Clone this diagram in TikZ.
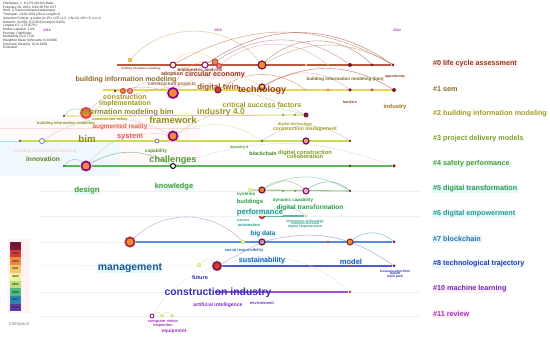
\documentclass[tikz,border=0pt]{standalone}
\usepackage{fontspec}
\setmainfont{Liberation Sans}
\usepackage{xcolor}
\usetikzlibrary{positioning,backgrounds}

\definecolor{y16}{HTML}{5B3C9E}
\definecolor{y17}{HTML}{2C84B4}
\definecolor{y18}{HTML}{4DBB7A}
\definecolor{y19}{HTML}{BDE07A}
\definecolor{y20}{HTML}{F3F0A0}
\definecolor{y21}{HTML}{F5C766}
\definecolor{y22}{HTML}{EE8A3C}
\definecolor{y23}{HTML}{D63A3A}
\definecolor{y24}{HTML}{7A1638}
\definecolor{c0}{HTML}{8B3A1E}
\definecolor{c1}{HTML}{8A6A24}
\definecolor{c2}{HTML}{A09A22}
\definecolor{c3}{HTML}{7A9C22}
\definecolor{c4}{HTML}{4A9C2A}
\definecolor{c5}{HTML}{2A9A48}
\definecolor{c6}{HTML}{2A9A88}
\definecolor{c7}{HTML}{2A6EB0}
\definecolor{c8}{HTML}{2A36B0}
\definecolor{c10}{HTML}{6A2EC0}
\definecolor{c11}{HTML}{A030C0}
\definecolor{salmon}{HTML}{E0604A}
\definecolor{l0}{HTML}{B85A40}
\definecolor{l1}{HTML}{E6D84A}
\definecolor{l2}{HTML}{DCDC6A}
\definecolor{l3}{HTML}{C8DC58}
\definecolor{l4}{HTML}{5AB85A}
\definecolor{l5}{HTML}{9CC890}
\definecolor{l6}{HTML}{5AB8A8}
\definecolor{l7}{HTML}{5A8CD8}
\definecolor{l8}{HTML}{4A5AD8}
\definecolor{l10}{HTML}{A050D8}

\begin{document}
\begin{tikzpicture}[
    x=1pt, y=-1pt,
    kwdot/.style={circle, inner sep=0pt, minimum size=#1},
    halo/.style={preaction={draw=magenta!22, line width=3pt}},
    kw/.style 2 args={text=#1, font=\bfseries\fontsize{#2pt}{#2pt}\selectfont, inner sep=0.4pt, align=center},
    clabel/.style={anchor=west, font=\bfseries\fontsize{7.2pt}{7.2pt}\selectfont, inner sep=1pt},
    cyanbg/.style={fill=cyan!10},
    pinkbg/.style={fill=pink!25},
    tline/.style={line width=1.1pt},
    faint/.style={line width=0.5pt, draw=gray!12},
    link/.style={line width=0.6pt, opacity=0.5},
    legbox/.style={draw=none, minimum width=11pt, minimum height=7.7pt, inner sep=0pt,
        font=\bfseries\fontsize{2.8pt}{2.8pt}\selectfont, text=black!85}
]
\useasboundingbox (0,0) rectangle (550,339);

% Header and years
\node[anchor=north west, align=left, inner sep=0pt, text=black!80,
      font=\fontsize{3.3pt}{3.7pt}\selectfont] (info) at (3,2) {CiteSpace, v. 6.1.R1 (64-bit) Basic\\
February 29, 2024, 9:49:38 PM CST\\
WoS: C:\textbackslash Users\textbackslash citespace\textbackslash data\textbackslash input\\
Timespan: 2016-2024 (Slice Length=1)\\
Selection Criteria: g-index (k=25), LRF=2.5, L/N=10, LBY=5, e=1.0\\
Network: N=258, E=539 (Density=0.0163)\\
Largest CC: 173 (67\%)\\
Nodes Labeled: 1.0\%\\
Pruning: Pathfinder\\
Modularity Q=0.7718\\
Weighted Mean Silhouette S=0.9306\\
Harmonic Mean(Q, S)=0.8439\\
Excluded:};
\node[kw={violet!70}{3.5}] (yr16) at (47,30) {2016};
\node[kw={violet!70}{3.5}] (yr20) at (218,30) {2020};
\node[kw={violet!70}{3.5}] (yr24) at (397,30) {2024};

% Row 0
\node[kwdot=4pt, fill=y21, draw=y22] (r0a) at (130,60) {};
\node[kwdot=6pt, fill=y20, draw=violet, line width=0.9pt] (r0b) at (173,65) {};
\node[kwdot=6pt, fill=white, draw=violet, line width=0.9pt] (r0c) at (205,65) {};
\node[kwdot=6pt, fill=y22, draw=y24!80, line width=0.8pt] (r0d) at (215,62) {};
\node[kwdot=5pt, fill=y23!60, draw=y23, line width=0.9pt] (r0e) at (219,66) {};
\node[kwdot=8pt, fill=y22, draw=y24, line width=1.2pt] (r0f) at (262,65) {};
\node[kwdot=2.5pt, fill=y21] (r0g) at (306,65) {};
\node[kwdot=2.5pt, fill=y22] (r0h) at (328,65) {};
\node[kwdot=4pt, fill=y24] (r0i) at (350,65) {};
\node[kwdot=3pt, fill=y24] (r0j) at (372,65) {};
\node[kwdot=3pt, fill=y24] (r0k) at (393,65) {};
\coordinate (s0) at (117,65);

% Row 1
\node[kwdot=2.5pt, fill=y24] (r1a) at (115,91) {};
\node[kwdot=5pt, fill=y22, draw=y23, line width=0.9pt] (r1b) at (123,91) {};
\node[kwdot=5pt, fill=y23!50, draw=y23, line width=0.9pt] (r1c) at (130,91) {};
\node[kwdot=10pt, fill=y22, draw=violet, line width=1.5pt, halo] (r1d) at (173,93) {};
\node[kwdot=6pt, fill=y23, draw=y24, line width=1pt] (r1e) at (218,90) {};
\node[kwdot=6pt, fill=y21, draw=y24, line width=1.2pt] (r1f) at (262,87) {};
\node[kwdot=2.5pt, fill=y20!80!black] (r1g) at (306,90) {};
\node[kwdot=3pt, fill=y22] (r1h) at (328,90) {};
\node[kwdot=3.5pt, fill=y24] (r1i) at (350,90) {};
\node[kwdot=3pt, fill=y23] (r1j) at (372,90) {};
\node[kwdot=4pt, fill=y24] (r1k) at (394,90) {};
\coordinate (s1) at (103,90);

% Row 2
\node[kwdot=2.5pt, fill=y16] (r2a) at (64,116) {};
\node[kwdot=10pt, fill=y22, draw=y23, line width=1.5pt, halo] (r2b) at (86,113) {};
\node[kwdot=2.5pt, fill=y19!70!black] (r2c) at (283,115) {};
\node[kwdot=2.5pt, fill=y19!70!black] (r2d) at (295,115) {};
\node[kwdot=5pt, fill=y24] (r2e) at (306,115) {};
\coordinate (p2s) at (0,128);
\coordinate (p2e) at (200,128);

% Row 3
\node[kwdot=2.5pt, fill=y16] (r3a) at (20,141) {};
\node[kwdot=5pt, fill=white, draw=gray, line width=0.8pt] (r3b) at (42,141) {};
\node[kwdot=4pt, fill=white, draw=gray, line width=0.8pt] (r3c) at (157,141) {};
\node[kwdot=9pt, fill=y22, draw=violet, line width=1.5pt, halo] (r3d) at (173,136) {};
\node[kwdot=3pt, fill=y19!60!black] (r3e) at (262,141) {};
\node[kwdot=6pt, fill=y23!50, draw=y24, line width=1.2pt] (r3f) at (306,141) {};
\node[kwdot=2.5pt, fill=y24] (r3g) at (350,141) {};
\coordinate (s3) at (0,141);

% Row 4
\node[kwdot=2.5pt, fill=y16] (r4a) at (64,166) {};
\node[kwdot=9pt, fill=y22, draw=violet, line width=1.5pt, halo] (r4b) at (86,166) {};
\node[kwdot=5pt, fill=white, draw=black, line width=1pt] (r4c) at (173,166) {};
\node[kwdot=2.5pt, fill=y24] (r4d) at (350,166) {};
\node[kwdot=3.5pt, fill=y24] (r4e) at (394,166) {};

% Row 5
\node[kwdot=4pt, fill=y20, draw=y19] (r5a) at (250,190) {};
\node[kwdot=6pt, fill=y22, draw=y24, line width=1.2pt] (r5b) at (262,190) {};
\node[kwdot=2.5pt, fill=y19!70!black] (r5c) at (283,191) {};
\node[kwdot=2.5pt, fill=y19!70!black] (r5d) at (295,191) {};
\node[kwdot=6pt, fill=y23!40, draw=violet, line width=1pt] (r5e) at (306,191) {};
\node[kwdot=2.5pt, fill=y24] (r5f) at (350,191) {};
\coordinate (f5s) at (40,191);
\coordinate (f5e) at (420,191);

% Row 6
\node[kwdot=5pt, fill=y22, draw=y24, line width=1pt] (r6a) at (262,216) {};
\node[kwdot=2.5pt, fill=y19!70!black] (r6b) at (283,216) {};
\node[kwdot=3pt, fill=y19] (r6c) at (306,216) {};
\coordinate (f6s) at (40,216);
\coordinate (f6e) at (420,216);

% Row 7
\node[kwdot=9pt, fill=y22, draw=y23!70!black, line width=1.5pt, halo] (r7a) at (130,242) {};
\node[kwdot=4pt, fill=y20, draw=y19] (r7b) at (243,242) {};
\node[kwdot=6pt, fill=y16!50, draw=y24, line width=1.2pt] (r7c) at (262,242) {};
\node[kwdot=2.5pt, fill=y23] (r7d) at (328,242) {};
\node[kwdot=6pt, fill=y22, draw=y23!60!black, line width=1pt] (r7e) at (350,242) {};
\node[kwdot=3pt, fill=y24] (r7f) at (394,242) {};
\coordinate (f7s) at (40,242);

% Row 8
\node[kwdot=4pt, fill=y20, draw=y19] (r8a) at (199,265) {};
\node[kwdot=8pt, fill=y23, draw=y24, line width=1.5pt, halo] (r8b) at (217,266) {};
\node[kwdot=2.5pt, fill=y23] (r8c) at (350,266) {};
\node[kwdot=3pt, fill=y24] (r8d) at (394,266) {};
\coordinate (f8s) at (40,266);

% Row 10 and 11
\coordinate (s10) at (215,292);
\node[kwdot=3pt, fill=y22!70!black] (r10a) at (350,292) {};
\coordinate (f10s) at (40,292);
\coordinate (f10e) at (420,292);
\node[kwdot=4pt, fill=white, draw=violet, line width=0.8pt] (r11a) at (152,316) {};
\node[kwdot=3pt, fill=y20, draw=y19] (r11b) at (162,316) {};
\node[kwdot=3pt, fill=y20, draw=y19] (r11c) at (172,316) {};
\coordinate (f11s) at (40,316);
\coordinate (f11e) at (420,316);

% Connections
\begin{scope}[on background layer]
\fill[pink!10] (0,118) rectangle (200,160);
\fill[cyan!6] (0,142) rectangle (120,176);
\draw[faint] (f5s) -- (f5e);
\draw[faint] (f6s) -- (f6e);
\draw[faint] (f7s) -- (r7a);
\draw[faint] (f8s) -- (r8a);
\draw[faint] (f10s) -- (f10e);
\draw[faint] (f11s) -- (f11e);
\draw[line width=0.8pt, pink!60] (p2s) -- (p2e);
\draw[line width=0.8pt, cyan!40] (s3) -- (r3a);
\draw[tline, l0] (s0) -- (r0k);
\draw[tline, l1] (s1) -- (r1k);
\draw[tline, l2] (r2a) -- (r2e);
\draw[tline, l3] (r3a) -- (r3g);
\draw[tline, l4] (r4a) -- (r4e);
\draw[tline, l5] (r5a) -- (r5f);
\draw[tline, l6] (r6a) -- (r6c);
\draw[tline, l7] (r7a) -- (r7f);
\draw[tline, l8, line width=1.4pt] (r8b) -- (r8d);
\draw[tline, l10] (s10) -- (r10a);
\draw[link, y21!80!black] (r0a) to[bend left=50] (r0f);
\draw[link, y22!70!black] (r0b) to[bend left=30] (r0k);
\draw[link, y23!70!black] (r0c) to[bend left=35] (r0k);
\draw[link, y24!70] (r0d) to[bend left=35] (r0i);
\draw[link, y22!60!black] (r0f) to[bend left=45] (r0j);
\draw[link, y23!60] (r0e) to[bend left=40] (r0h);
\draw[link, y21!70!black] (r0f) to[bend left=30] (r0k);
\draw[link, y21] (r0b) to[bend left=50] (r0d);
\draw[link, y22] (r1d) to[bend left=40] (r0d);
\draw[link, y21] (r1d) to[bend left=35] (r1f);
\draw[link, y22!80!black] (r1e) to[bend left=35] (r1g);
\draw[link, y23!70] (r1f) to[bend left=35] (r1i);
\draw[link, y23!80!black] (r1f) to[bend left=30] (r1k);
\draw[link, y20!70!black] (r1c) to[bend left=40] (r1d);
\draw[link, y19!80!black] (r2b) to[bend left=30] (r1d);
\draw[link, y20!80!black] (r2b) to[bend left=25] (r2e);
\draw[link, y18] (r2a) to[bend left=40] (r2b);
\draw[link, gray!50] (r3b) to[bend left=30] (r3d);
\draw[link, y19] (r3d) to[bend left=30] (r3e);
\draw[link, y20!70!black] (r3e) to[bend left=35] (r3g);
\draw[link, y18!70] (r3d) to[bend left=25] (r2e);
\draw[link, y23!40] (r4b) to[bend left=30] (r3d);
\draw[link, y18] (r4a) to[bend left=50] (r4b);
\draw[link, y18!70!black] (r4b) to[bend left=30] (r4c);
\draw[link, gray!40] (r4c) to[bend left=20] (r4e);
\draw[link, y19!70!black] (r5b) to[bend left=40] (r5e);
\draw[link, y18!70!black] (r5e) to[bend left=40] (r5f);
\draw[link, y18] (r5b) to[bend left=30] (r5f);
\draw[link, y17!70] (r6a) to[bend left=40] (r6c);
\draw[link, y16!70] (r7a) to[bend left=45] (r7b);
\draw[link, y16!80] (r7c) to[bend left=25] (r8d);
\draw[link, y17] (r7e) to[bend left=40] (r7f);
\draw[link, y16!70] (r8b) -- (r7c);
\draw[link, y19] (r8a) to[bend left=50] (r8b);
\draw[link, y23!30] (r8b) to[bend left=30] (r10a);
\draw[link, gray!30] (r8b) to[bend right=20] (r11a);
\draw[link, y19] (r11a) to[bend left=60] (r11b);
\draw[link, y19] (r11b) to[bend left=60] (r11c);
\end{scope}

% Keyword labels
\node[kw={c0}{2.7}] (bimtiny) at (141,69) {building information modeling};
\node[kw={c0}{4.5}] (biblio) at (200,70) {bibliometric analysis};
\node[kw={c0}{5.2}] (adoption) at (172,74) {adoption};
\node[kw={c0}{7.2}, pinkbg] (circular) at (215,75) {circular economy};
\node[kw={c0!80}{4.7}] (cprojects) at (172,84.5) {construction projects};
\node[kw={c2!70!black}{4.5}] (bimsmall) at (345,79) {building information modeling (bim)};
\node[kw={c0}{3.6}] (opportunity) at (395,77) {opportunity};
\node[kw={c0}{3.7}] (barriers) at (350,102) {barriers};
\node[kw={c1!80!orange}{5.8}] (industry) at (395,107) {industry};
\node[kw={c1}{7.0}] (bim1) at (126,79.5) {building information modeling};
\node[kw={c1!80!red}{7.9}] (twin) at (218,87) {digital twin};
\node[kw={c0!90!orange}{9}] (technology) at (262,90) {technology};
\node[kw={c1!70!yellow}{7.2}] (construction) at (125,96.5) {construction};
\node[kw={c2}{7.0}] (implementation) at (125,104) {implementation};
\node[kw={c2}{7.1}] (csf) at (262,105) {critical success factors};
\node[kw={c2!90!black}{7.6}] (imbim) at (127,113) {information modeling bim};
\node[kw={c2}{8.5}] (industry4) at (221,112) {industry 4.0};
\node[kw={c2!90!black}{9.3}] (framework) at (173,120) {framework};
\node[kw={c3}{4.0}] (bimgreen) at (66,123) {building information modeling};
\node[kw={c2}{3.8}] (csafety) at (110,120) {construction safety};
\node[kw={salmon}{6.4}] (ar) at (120,127) {augmented reality};
\node[kw={c2}{4.0}] (dtech) at (295,124) {digital technology};
\node[kw={c2}{5.1}] (cmanagement) at (305,129) {construction management};
\node[kw={pink!80}{4.4}] (bimpink) at (45,151) {building information modeling};
\node[kw={c2!90!black}{9.6}] (bim3) at (87,139) {bim};
\node[kw={salmon}{7.5}] (system) at (130,137) {system};
\node[kw={c4}{4.8}] (capability) at (156,151) {capability};
\node[kw={c4}{3.8}] (industry4b) at (239,148) {industry 4};
\node[kw={c4!80!black}{5.2}] (blockchain) at (263,154) {blockchain};
\node[kw={c3}{5.8}] (dcc) at (305,154.5) {digital construction\\[-1pt]collaboration};
\node[kw={c3!80!black}{6.7}] (innovation) at (43,159) {innovation};
\node[kw={c4}{9.1}] (challenges) at (173,160) {challenges};
\node[kw={c4}{7.8}, cyanbg] (design) at (87,191) {design};
\node[kw={c4}{7.4}, cyanbg] (knowledge) at (174,187) {knowledge};
\node[kw={c5}{4.5}] (systems) at (246,195) {systems};
\node[kw={c5}{5.9}] (buildings) at (250,202) {buildings};
\node[kw={c5}{4.5}] (dyncap) at (293,200) {dynamic capability};
\node[kw={c6}{7.6}, cyanbg] (performance) at (260,212.5) {performance};
\node[kw={c5}{6.5}] (dtransform) at (310,208) {digital transformation};
\node[kw={c6}{3.4}] (internet) at (243,220) {internet};
\node[kw={c6}{4.1}] (automation) at (249,225) {automation};
\node[kw={c6}{3.4}] (itech) at (305,224) {information technology\\[-1pt]entrepreneurship\\[-1pt]digital empowerment};
\node[kw={c7!70!c6}{6.5}, cyanbg] (bigdata) at (263,234) {big data};
\node[kw={c7}{4.0}] (social) at (244,250) {social responsibility};
\node[kw={c7!80!black}{10.4}, cyanbg] (management) at (130,268) {management};
\node[kw={c8!80!cyan}{7.2}, cyanbg] (sustainability) at (262,261) {sustainability};
\node[kw={c8!80!cyan}{7.5}, cyanbg] (model) at (351,262) {model};
\node[kw={c8}{5.6}] (future) at (200,278) {future};
\node[kw={c8}{3.3}] (mainpath) at (395,274) {kosaraju algorithm\\[-1pt]patent\\[-1pt]main path};
\node[kw={c8!80!c10}{10.4}] (cindustry) at (218,293) {construction industry};
\node[kw={c10!80!magenta}{5.1}] (ai) at (218,305) {artificial intelligence};
\node[kw={c10}{4.0}] (environment) at (262,303) {environment};
\node[kw={c11}{3.9}] (cvision) at (163,321) {computer vision};
\node[kw={c11}{3.9}] (inspection) at (163,325) {inspection};
\node[kw={c11}{4.9}] (equipment) at (174,331) {equipment};

% Cluster labels
\node[clabel, text=c0, pinkbg] (cl0) at (432,64) {\#0 life cycle assessment};
\node[clabel, text=c1] (cl1) at (432,89) {\#1 sem};
\node[clabel, text=c2] (cl2) at (432,114) {\#2 building information modeling};
\node[clabel, text=c3] (cl3) at (432,139) {\#3 project delivery models};
\node[clabel, text=c4, fill=cyan!6] (cl4) at (432,164) {\#4 safety performance};
\node[clabel, text=c5, cyanbg] (cl5) at (432,189) {\#5 digital transformation};
\node[clabel, text=c6, cyanbg] (cl6) at (432,214) {\#6 digital empowerment};
\node[clabel, text=c7, cyanbg] (cl7) at (432,239) {\#7 blockchain};
\node[clabel, text=c8, cyanbg] (cl8) at (432,264) {\#8 technological trajectory};
\node[clabel, text=c10, pinkbg] (cl10) at (432,289) {\#10 machine learning};
\node[clabel, text=c11, pinkbg] (cl11) at (432,314) {\#11 review};

% Legend
\fill[pink!20] (8,239) rectangle (30,313);
\node[legbox, fill=y24] (leg24) at (15.5,245.9) {2024};
\node[legbox, fill=y23] (leg23) at (15.5,253.6) {2023};
\node[legbox, fill=y22] (leg22) at (15.5,261.3) {2022};
\node[legbox, fill=y21] (leg21) at (15.5,269.0) {2021};
\node[legbox, fill=y20] (leg20) at (15.5,276.7) {2020};
\node[legbox, fill=y19] (leg19) at (15.5,284.4) {2019};
\node[legbox, fill=y18] (leg18) at (15.5,292.1) {2018};
\node[legbox, fill=y17] (leg17) at (15.5,299.8) {2017};
\node[legbox, fill=y16] (leg16) at (15.5,307.5) {2016};
\node[text=gray, font=\itshape\fontsize{4.5pt}{4.5pt}\selectfont] (logo) at (19,324) {CiteSpace};

\end{tikzpicture}
\end{document}
